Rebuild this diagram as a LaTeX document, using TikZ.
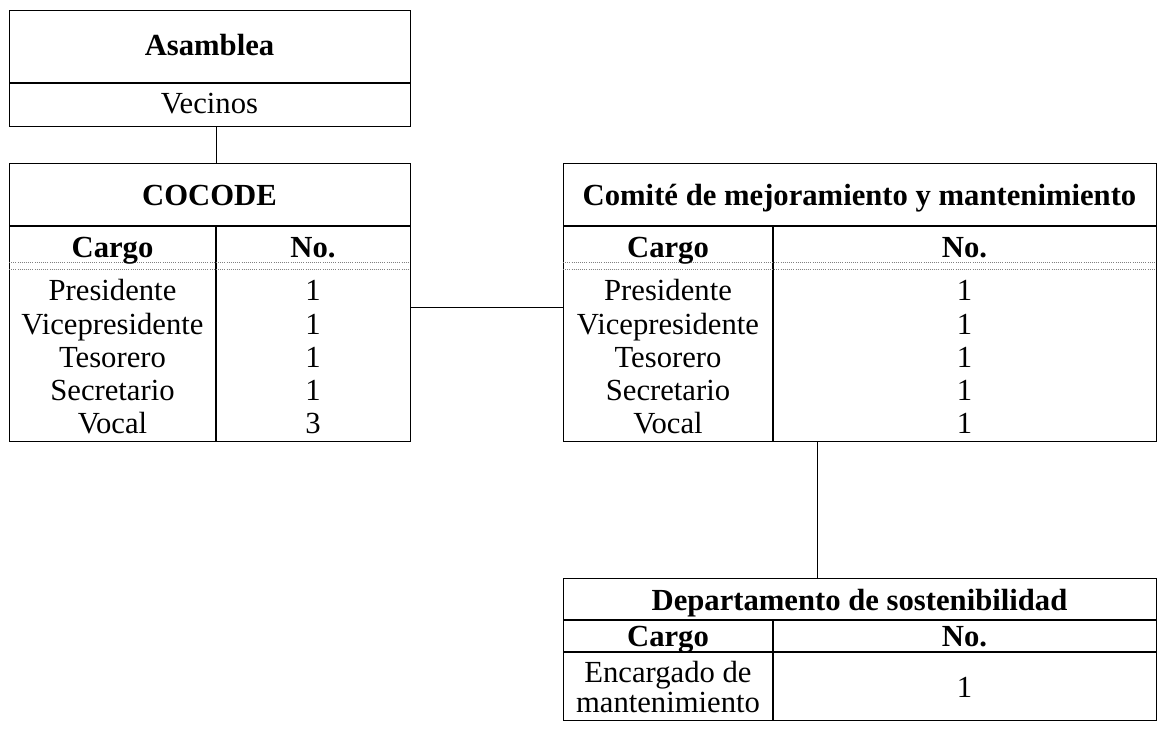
\documentclass[tikz,border=0pt]{standalone}
\usepackage{fontspec}
\setmainfont{Liberation Serif}
\begin{document}
\begin{tikzpicture}[x=0.75pt,y=-0.75pt, line width=0.9pt,
  box/.style={draw, anchor=north west, inner sep=0pt, line width=1.1pt},
  t/.style={font=\fontsize{23}{27}\selectfont, inner sep=0pt, anchor=base},
  tb/.style={font=\fontsize{23}{27}\selectfont\bfseries, inner sep=0pt, anchor=base},
  dline/.style={gray, line width=0.6pt, densely dotted}]
\useasboundingbox (0,0) rectangle (1157,736);
% boxes
\node[box, minimum width=300.75pt, minimum height=87pt] (asam) at (9,10) {};
\node[box, minimum width=300.75pt, minimum height=208.5pt] (coc) at (9,163) {};
\node[box, minimum width=444.75pt, minimum height=208.5pt] (com) at (563,163) {};
\node[box, minimum width=444.75pt, minimum height=106.5pt] (dep) at (563,578) {};
% Asamblea
\draw (9,83) -- (410,83);
\node[tb] (tasam) at (209.5,55) {Asamblea};
\node[t] (tvec) at (209.5,113) {Vecinos};
% COCODE
\draw (9,226) -- (410,226);
\draw (216,226) -- (216,441);
\draw[dline] (9,262) -- (410,262);
\draw[dline] (9,269) -- (410,269);
\node[tb] (tcoc) at (209.5,205) {COCODE};
\node[tb] (ccar) at (112.5,257) {Cargo};
\node[tb] (cno) at (313,257) {No.};
\node[t] (c1) at (112.5,300) {Presidente};
\node[t] (c2) at (112.5,334) {Vicepresidente};
\node[t] (c3) at (112.5,367) {Tesorero};
\node[t] (c4) at (112.5,400) {Secretario};
\node[t] (c5) at (112.5,433) {Vocal};
\node[t] (n1) at (313,300) {1};
\node[t] (n2) at (313,334) {1};
\node[t] (n3) at (313,367) {1};
\node[t] (n4) at (313,400) {1};
\node[t] (n5) at (313,433) {3};
% Comite
\draw (563,226) -- (1156,226);
\draw (773,226) -- (773,441);
\draw[dline] (563,262) -- (1156,262);
\draw[dline] (563,269) -- (1156,269);
\node[tb] (tcom) at (859.5,205) {Comité de mejoramiento y mantenimiento};
\node[tb] (mcar) at (668,257) {Cargo};
\node[tb] (mno) at (964.5,257) {No.};
\node[t] (m1) at (668,300) {Presidente};
\node[t] (m2) at (668,334) {Vicepresidente};
\node[t] (m3) at (668,367) {Tesorero};
\node[t] (m4) at (668,400) {Secretario};
\node[t] (m5) at (668,433) {Vocal};
\node[t] (k1) at (964.5,300) {1};
\node[t] (k2) at (964.5,334) {1};
\node[t] (k3) at (964.5,367) {1};
\node[t] (k4) at (964.5,400) {1};
\node[t] (k5) at (964.5,433) {1};
% Departamento
\draw (563,620) -- (1156,620);
\draw (563,652) -- (1156,652);
\draw (773,620) -- (773,720);
\node[tb] (tdep) at (859.5,610) {Departamento de sostenibilidad};
\node[tb] (dcar) at (668,646) {Cargo};
\node[tb] (dno) at (964.5,646) {No.};
\node[t] (d1a) at (668,682) {Encargado de};
\node[t] (d1b) at (668,712) {mantenimiento};
\node[t] (dn1) at (964.5,697) {1};
% connectors
\draw ([xshift=4.5pt]asam.south) -- ([xshift=4.5pt]coc.north);
\draw ([yshift=-3.75pt]coc.east) -- ([yshift=-3.75pt]com.west);
\draw ([xshift=-31.875pt]com.south) -- ([xshift=-31.875pt]dep.north);
\end{tikzpicture}
\end{document}
